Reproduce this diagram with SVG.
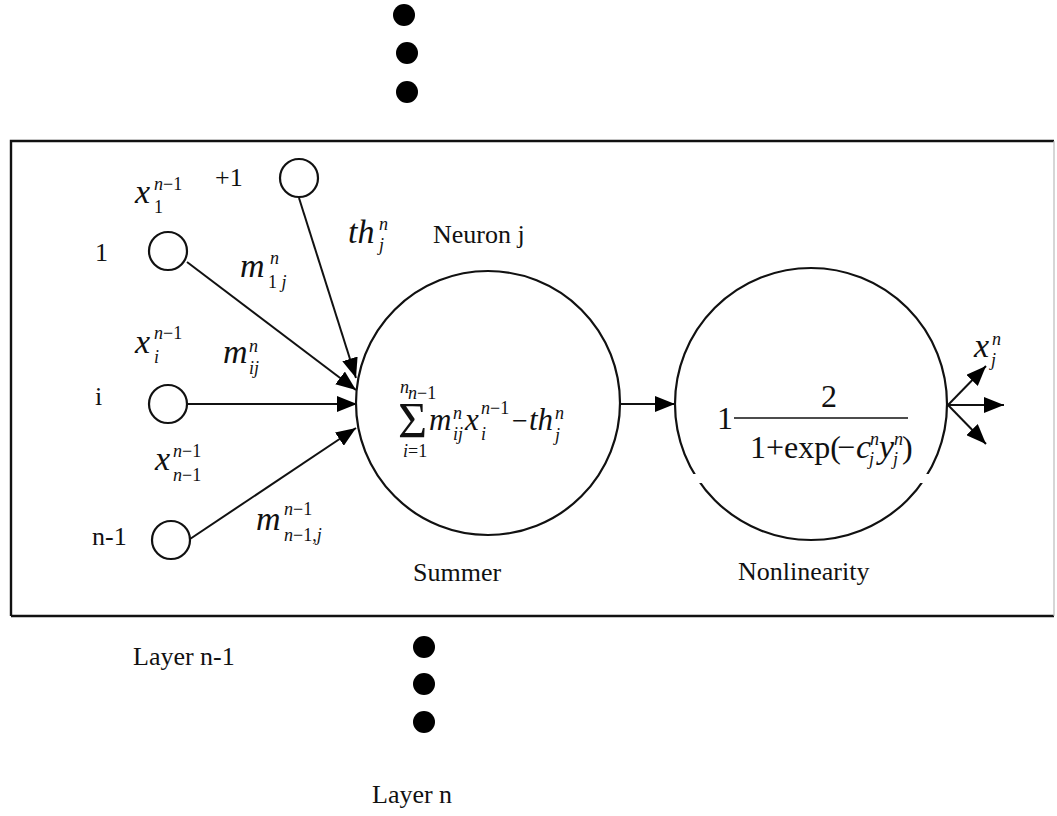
<svg xmlns="http://www.w3.org/2000/svg" width="1057" height="816" viewBox="0 0 1057 816">
  <style>
    .lbl { font-family: "Liberation Serif", "Times New Roman", serif; font-size: 26px; fill: #111; }
    .mi { font-family: "Liberation Serif", "Times New Roman", serif; font-style: italic; font-size: 34px; fill: #111; }
    .ms { font-family: "Liberation Serif", "Times New Roman", serif; font-style: italic; font-size: 31px; fill: #111; }
    .sc { font-family: "Liberation Serif", "Times New Roman", serif; font-style: italic; font-size: 18px; fill: #111; }
    .scn { font-family: "Liberation Serif", "Times New Roman", serif; font-size: 18px; fill: #111; }
    .num { font-family: "Liberation Serif", "Times New Roman", serif; font-size: 32px; fill: #111; }
    .node { fill: #fff; stroke: #111; stroke-width: 2.2; }
    .big { fill: none; stroke: #111; stroke-width: 2.2; }
    .edge { stroke: #111; stroke-width: 2; fill: none; marker-end: url(#head); }
    .dot { fill: #000; }
  </style>
  <defs>
    <marker id="head" viewBox="0 0 20 16" refX="20" refY="8" markerWidth="20" markerHeight="16" markerUnits="userSpaceOnUse" orient="auto">
      <path d="M0,0 L20,8 L0,16 Z" fill="#000"/>
    </marker>
  </defs>

  <rect width="1057" height="816" fill="#fff"/>

  <!-- continuation dots above the layer -->
  <g id="dots-top">
    <circle class="dot" cx="404" cy="15" r="11"/>
    <circle class="dot" cx="407" cy="53" r="11"/>
    <circle class="dot" cx="407" cy="92" r="11"/>
  </g>

  <!-- layer frame -->
  <g id="frame">
    <path d="M11,616 L11,141 L1054,141" fill="none" stroke="#111" stroke-width="2.4"/>
    <path d="M11,616 L1054,616" fill="none" stroke="#111" stroke-width="2.4"/>
    <path d="M1054,141 L1054,616" fill="none" stroke="#bbb" stroke-width="1.2"/>
  </g>

  <!-- connectors -->
  <g id="connectors">
    <line class="edge" x1="187" y1="262" x2="356" y2="390"/>
    <line class="edge" x1="299" y1="198" x2="356" y2="378"/>
    <line class="edge" x1="187" y1="404" x2="357" y2="404"/>
    <line class="edge" x1="190" y1="539" x2="356" y2="428"/>
    <line class="edge" x1="620" y1="404" x2="675" y2="404"/>
    <line class="edge" x1="948" y1="405" x2="986" y2="366"/>
    <line class="edge" x1="948" y1="405" x2="1004" y2="405"/>
    <line class="edge" x1="948" y1="405" x2="986" y2="444"/>
  </g>

  <!-- input nodes of layer n-1 -->
  <g id="bias">
    <circle class="node" cx="299" cy="178" r="19"/>
    <text class="lbl" x="215" y="186">+1</text>
  </g>
  <g id="input-1">
    <circle class="node" cx="168" cy="251" r="19"/>
    <text class="lbl" x="95" y="261" font-size="27">1</text>
  </g>
  <g id="input-i">
    <circle class="node" cx="168" cy="404" r="19"/>
    <text class="lbl" x="95" y="405" font-size="27">i</text>
  </g>
  <g id="input-n-1">
    <circle class="node" cx="171" cy="540" r="19"/>
    <text class="lbl" x="92" y="545">n-1</text>
  </g>

  <!-- input and weight labels -->
  <g id="labels">
    <text class="mi" x="135" y="203">x</text>
    <text class="sc" x="154" y="190">n<tspan font-style="normal">−1</tspan></text>
    <text class="scn" x="154" y="213">1</text>

    <text class="mi" x="240" y="277">m</text>
    <text class="sc" x="270" y="264">n</text>
    <text class="sc" x="268" y="288"><tspan font-style="normal">1</tspan> j</text>

    <text class="mi" x="348" y="243">th</text>
    <text class="sc" x="379" y="230">n</text>
    <text class="sc" x="379" y="251">j</text>

    <text class="mi" x="135" y="353">x</text>
    <text class="sc" x="154" y="339">n<tspan font-style="normal">−1</tspan></text>
    <text class="sc" x="154" y="363">i</text>

    <text class="mi" x="223" y="363">m</text>
    <text class="sc" x="249" y="352">n</text>
    <text class="sc" x="249" y="374">ij</text>

    <text class="mi" x="155" y="470">x</text>
    <text class="sc" x="173" y="457">n<tspan font-style="normal">−1</tspan></text>
    <text class="sc" x="173" y="481">n<tspan font-style="normal">−1</tspan></text>

    <text class="mi" x="256" y="530">m</text>
    <text class="sc" x="284" y="515">n<tspan font-style="normal">−1</tspan></text>
    <text class="sc" x="284" y="541">n<tspan font-style="normal">−1,</tspan>j</text>
  </g>

  <!-- summing junction of neuron j -->
  <g id="summer">
    <circle class="big" cx="488" cy="403" r="132"/>
    <text class="lbl" x="433" y="243">Neuron j</text>
    <text class="lbl" x="413" y="581">Summer</text>
    <text font-family="Liberation Serif, serif" font-size="50" x="398" y="437" fill="#111">Σ</text>
    <text class="sc" x="400" y="393" font-size="14">n</text>
    <text class="sc" x="408" y="399" font-size="10">n<tspan font-style="normal">−1</tspan></text>
    <text class="sc" x="403" y="457" font-size="14">i<tspan font-style="normal">=1</tspan></text>
    <text class="ms" x="429" y="430">m</text>
    <text class="sc" x="453" y="419">n</text>
    <text class="sc" x="453" y="440">ij</text>
    <text class="ms" x="465" y="430">x</text>
    <text class="sc" x="481" y="414">n<tspan font-style="normal">−1</tspan></text>
    <text class="sc" x="481" y="440">i</text>
    <text font-family="Liberation Serif, serif" font-size="28" x="512" y="430" fill="#111">−</text>
    <text class="ms" x="529" y="430">th</text>
    <text class="sc" x="555" y="419">n</text>
    <text class="sc" x="555" y="441">j</text>
  </g>

  <!-- sigmoid nonlinearity -->
  <g id="nonlinearity">
    <circle class="big" cx="811" cy="404" r="136"/>
    <rect x="680" y="474" width="265" height="9" fill="#fff"/>
    <text class="lbl" x="738" y="580">Nonlinearity</text>
    <text class="num" x="717" y="429">1</text>
    <line x1="734" y1="418" x2="908" y2="418" stroke="#111" stroke-width="1.6"/>
    <text class="num" x="821" y="407">2</text>
    <text class="num" x="750" y="458">1+exp(</text>
    <text class="num" x="837" y="458">−</text>
    <text class="mi" x="856" y="458" font-size="30">c</text>
    <text class="sc" x="870" y="445" font-size="13">n</text>
    <text class="sc" x="869" y="465" font-size="13">j</text>
    <text class="mi" x="879" y="458" font-size="30">y</text>
    <text class="sc" x="894" y="445" font-size="13">n</text>
    <text class="sc" x="893" y="465" font-size="13">j</text>
    <text class="num" x="902" y="458">)</text>
  </g>

  <!-- neuron output -->
  <g id="output">
    <text class="mi" x="974" y="357">x</text>
    <text class="sc" x="992" y="345">n</text>
    <text class="sc" x="991" y="366">j</text>
  </g>

  <!-- continuation dots below and layer captions -->
  <g id="dots-bottom">
    <circle class="dot" cx="424" cy="647" r="11"/>
    <circle class="dot" cx="424" cy="684" r="11"/>
    <circle class="dot" cx="424" cy="722" r="11"/>
  </g>
  <g id="layer-captions">
    <text class="lbl" x="133" y="665">Layer n-1</text>
    <text class="lbl" x="372" y="803">Layer n</text>
  </g>
</svg>
